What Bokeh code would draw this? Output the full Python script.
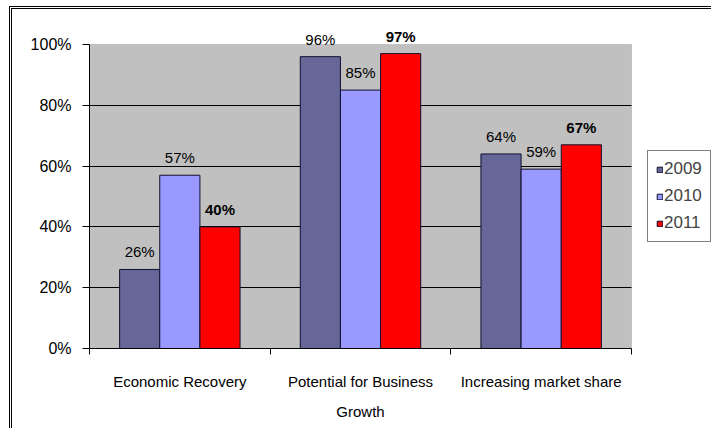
from bokeh.plotting import figure
from bokeh.models import (ColumnDataSource, Range1d, FixedTicker, PrintfTickFormatter,
                          LabelSet, Legend, LegendItem, BoxAnnotation)
from bokeh.core.properties import value
from bokeh.transform import dodge
from bokeh.embed import file_html
from bokeh.resources import INLINE

categories = ["Economic Recovery", "Potential for Business\nGrowth", "Increasing market share"]
years = ["2009", "2010", "2011"]
v2009 = [26, 96, 64]
v2010 = [57, 85, 59]
v2011 = [40, 97, 67]
colors = ["#666699", "#9999FF", "#FF0000"]
y_ticks = [0, 20, 40, 60, 80, 100]

FONT = "Liberation Sans"
BAR_W = 1 / 4.5
NCAT = len(categories)
YMAX = 100

# layout (pixels)
PX_PER_CAT = 542 / NCAT
PX_PER_PCT = 304 / YMAX
FRAME_W = 622
FRAME_H = 336

xpos = [i + 0.5 for i in range(NCAT)]
src = ColumnDataSource(dict(
    x=xpos,
    v2009=v2009, v2010=v2010, v2011=v2011,
    t2009=[f"{v}%" for v in v2009],
    t2010=[f"{v}%" for v in v2010],
    t2011=[f"{v}%" for v in v2011],
))

p = figure(output_backend="svg", toolbar_location=None,
           x_range=Range1d(0, FRAME_W / PX_PER_CAT), y_range=Range1d(0, FRAME_H / PX_PER_PCT),
           min_border_left=77, min_border_right=0, min_border_top=3, min_border_bottom=80)
p.frame_width = FRAME_W
p.frame_height = FRAME_H
p.styles = {"border-left": "3px double #000000", "border-top": "3px double #000000",
            "margin-left": "9px", "margin-top": "6px"}
p.background_fill_color = "#FFFFFF"
p.border_fill_color = "#FFFFFF"
p.outline_line_color = None

plot_area = BoxAnnotation(left=0, right=NCAT, bottom=0, top=YMAX,
                          fill_color="#C0C0C0", fill_alpha=1,
                          line_color="#808080", line_width=1, level="image")
p.add_layout(plot_area)

renderers = []
for j, (yr, col) in enumerate(zip(years, colors)):
    off = (j - 1) * BAR_W
    r = p.vbar(x=dodge("x", off, range=p.x_range), top="v" + yr, width=BAR_W, source=src,
               fill_color=col, line_color="#101030", line_width=1)
    renderers.append(r)
    lbl = LabelSet(x=dodge("x", off, range=p.x_range), y="v" + yr, text="t" + yr, source=src,
                   text_align="center", text_baseline="bottom", y_offset=9,
                   text_font=value(FONT), text_font_size="15px", text_color="#000000",
                   text_font_style="bold" if yr == "2011" else "normal")
    p.add_layout(lbl)

# y axis
p.yaxis.bounds = (0, YMAX)
p.yaxis.ticker = FixedTicker(ticks=y_ticks)
p.yaxis.formatter = PrintfTickFormatter(format="%d%%")
p.yaxis.major_label_text_font = FONT
p.yaxis.major_label_text_font_size = "16px"
p.yaxis.major_label_text_color = "#000000"
p.yaxis.major_label_standoff = 11
p.yaxis.major_tick_in = 0
p.yaxis.major_tick_out = 7
p.yaxis.minor_tick_line_color = None
p.yaxis.axis_line_color = "#000000"
p.yaxis.major_tick_line_color = "#000000"

# x axis
p.xaxis.bounds = (0, NCAT)
p.xaxis.ticker = FixedTicker(ticks=xpos, minor_ticks=list(range(NCAT + 1)))
p.xaxis.major_label_overrides = {x: c for x, c in zip(xpos, categories)}
p.xaxis.major_tick_line_color = None
p.xaxis.major_tick_in = 0
p.xaxis.major_tick_out = 6
p.xaxis.minor_tick_in = 0
p.xaxis.minor_tick_out = 6
p.xaxis.minor_tick_line_color = "#000000"
p.xaxis.axis_line_color = "#000000"
p.xaxis.major_label_text_font = FONT
p.xaxis.major_label_text_font_size = "15px"
p.xaxis.major_label_text_color = "#000000"
p.xaxis.major_label_standoff = 18
p.xaxis.major_label_text_line_height = 1.8

# grid
p.xgrid.grid_line_color = None
p.ygrid.ticker = FixedTicker(ticks=y_ticks[1:-1])
p.ygrid.cross_bounds = (0, NCAT)
p.ygrid.grid_line_color = "#000000"
p.ygrid.grid_line_width = 1

legend = Legend(items=[LegendItem(label=yr, renderers=[r]) for yr, r in zip(years, renderers)],
                location=(558, 106), orientation="vertical",
                border_line_color="#000000", border_line_width=1,
                background_fill_color="#FFFFFF", background_fill_alpha=1,
                glyph_width=7, glyph_height=7, label_standoff=1,
                label_text_font=FONT, label_text_font_size="17px", label_height=20,
                spacing=7, padding=8, margin=0)
p.add_layout(legend, "center")

open("out.html", "w").write(file_html(p, INLINE))
